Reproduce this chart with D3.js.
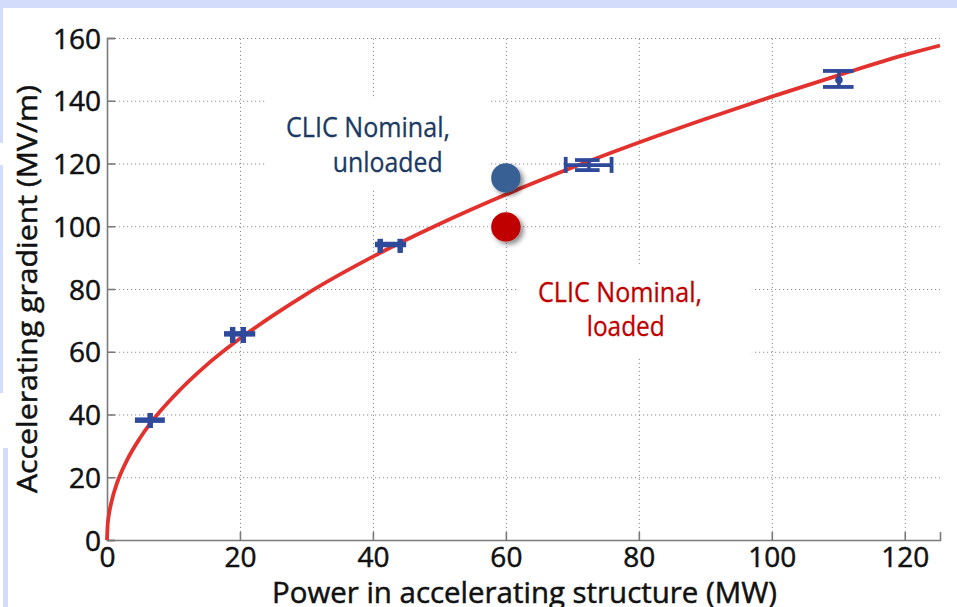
<!DOCTYPE html>
<html>
<head>
<meta charset="utf-8">
<script src="https://cdn.jsdelivr.net/npm/d3@7"></script>
<style>
  body { margin: 0; background: #ffffff; }
  svg { display: block; }
  text { font-family: "Open Sans", "DejaVu Sans", sans-serif; }
</style>
</head>
<body>
<svg id="chart" width="957" height="607"></svg>
<script>
// fitted curve (power in MW, gradient in MV/m)
const curvePower = [0, 0.1, 0.3, 0.7, 1.5, 3, 5, 7.5, 10, 15, 20, 25, 30, 40, 50, 60, 70, 80, 90, 100, 110, 120, 125.3];
const curveGrad  = [0, 4.8, 8.2, 12.4, 18.1, 25.4, 32.6, 39.8, 45.7, 55.8, 64.2, 71.6, 78.4, 90.3, 100.7, 110.1, 118.7, 126.7, 134.2, 141.3, 148.1, 154.6, 157.6];

// measured points: horizontal error bar with short vertical marks
const hBars = [
  { g: 38.2,  pLo: 4.2,  pHi: 8.7,  marks: [6.5],        gLo: 35.7,  gHi: 40.5 },
  { g: 65.7,  pLo: 17.6, pHi: 22.3, marks: [18.9, 20.5], gLo: 62.8,  gHi: 67.9 },
  { g: 94.2,  pLo: 40.3, pHi: 45.0, marks: [41.1, 44.1], gLo: 91.5,  gHi: 96.0 },
  { g: 119.5, pLo: 69.0, pHi: 75.9, marks: [69.0, 75.9], gLo: 117.0, gHi: 122.1 }
];
// vertical error bars with horizontal caps
const vBars = [
  { p: 72.5,  gLo: 117.9, gHi: 121.1, pLo: 70.4,  pHi: 74.1 },
  { p: 110.1, gLo: 144.4, gHi: 149.5, pLo: 107.7, pHi: 112.3 }
];
const centerDots = [{ p: 110.1, g: 146.6 }];

// CLIC nominal points
const nominalPower = [60, 60];
const nominalGrad = [115.4, 99.8];
const nominalNames = ["unloaded", "loaded"];

const xTicks = [0, 20, 40, 60, 80, 100, 120];
const yTicks = [0, 20, 40, 60, 80, 100, 120, 140, 160];

const width = 957, height = 607;
const margin = { top: 38, right: 17, bottom: 67, left: 107 };

const svg = d3.select("#chart");

// page background bits
const lav = "#d3ddfb";
svg.append("rect").attr("x", 0).attr("y", 0).attr("width", width).attr("height", 8).attr("fill", lav);
svg.append("rect").attr("x", 0).attr("y", 8).attr("width", 3).attr("height", 135).attr("fill", lav);
svg.append("rect").attr("x", 0).attr("y", 165).attr("width", 3).attr("height", 228).attr("fill", lav);
svg.append("rect").attr("x", 3).attr("y", 448).attr("width", 5).attr("height", 159).attr("fill", lav);

const x = d3.scaleLinear()
  .domain([0, 125.3])
  .range([margin.left, width - margin.right]);
const y = d3.scaleLinear()
  .domain([0, 160])
  .range([height - margin.bottom, margin.top]);

const defs = svg.append("defs");
const f = defs.append("filter").attr("id", "shadow")
  .attr("x", "-50%").attr("y", "-50%").attr("width", "200%").attr("height", "200%");
f.append("feDropShadow")
  .attr("dx", 3).attr("dy", 3).attr("stdDeviation", 2.5)
  .attr("flood-color", "#000").attr("flood-opacity", 0.45);

// grid
const grid = svg.append("g")
  .attr("stroke", "#8c8c8c").attr("stroke-width", 1).attr("stroke-dasharray", "1.2,2.8");
grid.selectAll("line.h").data(yTicks.filter(d => d > 0)).enter().append("line")
  .attr("x1", x(0)).attr("x2", x(125.3))
  .attr("y1", d => y(d) + 0.5).attr("y2", d => y(d) + 0.5);
grid.selectAll("line.v").data(xTicks.filter(d => d > 0)).enter().append("line")
  .attr("x1", d => x(d) + 0.5).attr("x2", d => x(d) + 0.5)
  .attr("y1", y(0)).attr("y2", y(160));

// white label boxes covering the grid
svg.append("rect").attr("x", x(23.8)).attr("y", y(140.6))
  .attr("width", x(57.3) - x(23.8)).attr("height", y(111.4) - y(140.6)).attr("fill", "#fff");
svg.append("rect").attr("x", x(61.7)).attr("y", y(88.0))
  .attr("width", x(97.0) - x(61.7)).attr("height", y(58.6) - y(88.0)).attr("fill", "#fff");

// axes
const xAxis = svg.append("g")
  .attr("transform", `translate(0,${y(0)})`)
  .call(d3.axisBottom(x).tickValues(xTicks).tickSize(-8).tickPadding(7).tickFormat(d3.format("d")));
const yAxis = svg.append("g")
  .attr("transform", `translate(${x(0)},0)`)
  .call(d3.axisLeft(y).tickValues(yTicks).tickSize(-8).tickPadding(6).tickFormat(d3.format("d")));

[xAxis, yAxis].forEach(a => {
  a.select(".domain").attr("stroke", "#7a7a7a").attr("stroke-width", 1.6);
  a.selectAll(".tick line").attr("stroke", "#7a7a7a").attr("stroke-width", 1.6);
  a.selectAll(".tick text").attr("fill", "#111")
    .attr("stroke", "#111").attr("stroke-width", 0.5)
    .style("font-size", "28px");
});
xAxis.selectAll(".tick text").attr("dy", "0.72em");
yAxis.selectAll(".tick text").attr("dy", "0.36em");

// fitted curve
const line = d3.line()
  .x((d, i) => x(curvePower[i]))
  .y(d => y(d))
  .curve(d3.curveMonotoneX);
svg.append("path")
  .datum(curveGrad)
  .attr("d", line)
  .attr("fill", "none")
  .attr("stroke", "#e3322e")
  .attr("stroke-width", 3.8);

// error bars
const barColor = "#2f4a9b";
const barWidths = [5.5, 5.5, 5.5, 3.8];
const eb = svg.append("g").attr("stroke", barColor).attr("fill", "none");
hBars.forEach((b, i) => {
  eb.append("line")
    .attr("x1", x(b.pLo)).attr("x2", x(b.pHi))
    .attr("y1", y(b.g)).attr("y2", y(b.g))
    .attr("stroke-width", barWidths[i]);
  b.marks.forEach(m => {
    eb.append("line")
      .attr("x1", x(m)).attr("x2", x(m))
      .attr("y1", y(b.gLo)).attr("y2", y(b.gHi))
      .attr("stroke-width", barWidths[i]);
  });
});
vBars.forEach(b => {
  eb.append("line")
    .attr("x1", x(b.p)).attr("x2", x(b.p))
    .attr("y1", y(b.gLo)).attr("y2", y(b.gHi))
    .attr("stroke-width", 3.5);
  [b.gLo, b.gHi].forEach(g => {
    eb.append("line")
      .attr("x1", x(b.pLo)).attr("x2", x(b.pHi))
      .attr("y1", y(g)).attr("y2", y(g))
      .attr("stroke-width", 3.8);
  });
});
svg.selectAll("circle.center").data(centerDots).enter().append("circle")
  .attr("cx", d => x(d.p)).attr("cy", d => y(d.g)).attr("r", 3.8)
  .attr("fill", barColor);

// CLIC nominal dots
const dotColors = ["#386194", "#c00000"];
svg.selectAll("circle.nominal").data(nominalGrad).enter().append("circle")
  .attr("cx", (d, i) => x(nominalPower[i]))
  .attr("cy", d => y(d))
  .attr("r", 14.7)
  .attr("fill", (d, i) => dotColors[i])
  .attr("filter", "url(#shadow)");

// annotations
const blueText = "#1b3a63", redText = "#c00000";
function label(txt, px, g, anchor, color, len) {
  svg.append("text")
    .attr("x", x(px)).attr("y", y(g))
    .attr("text-anchor", anchor)
    .attr("fill", color)
    .attr("stroke", color).attr("stroke-width", 0.3)
    .style("font-size", "27px")
    .attr("textLength", len)
    .attr("lengthAdjust", "spacingAndGlyphs")
    .text(txt);
}
label("CLIC Nominal,", 51.6, 128.4, "end", blueText, 164);
label(nominalNames[0], 50.5, 117.3, "end", blueText, 110);
label("CLIC Nominal,", 89.5, 75.9, "end", redText, 164);
label(nominalNames[1], 83.9, 65.0, "end", redText, 78);

// axis titles
svg.append("text")
  .attr("x", 524.5).attr("y", 603)
  .attr("text-anchor", "middle")
  .attr("fill", "#111")
  .attr("stroke", "#111").attr("stroke-width", 0.5)
  .style("font-size", "29px")
  .attr("textLength", 505)
  .attr("lengthAdjust", "spacingAndGlyphs")
  .text("Power in accelerating structure (MW)");
svg.append("text")
  .attr("transform", "translate(37,289) rotate(-90)")
  .attr("text-anchor", "middle")
  .attr("fill", "#111")
  .attr("stroke", "#111").attr("stroke-width", 0.5)
  .style("font-size", "28px")
  .attr("textLength", 408)
  .attr("lengthAdjust", "spacingAndGlyphs")
  .text("Accelerating gradient (MV/m)");
</script>
</body>
</html>
